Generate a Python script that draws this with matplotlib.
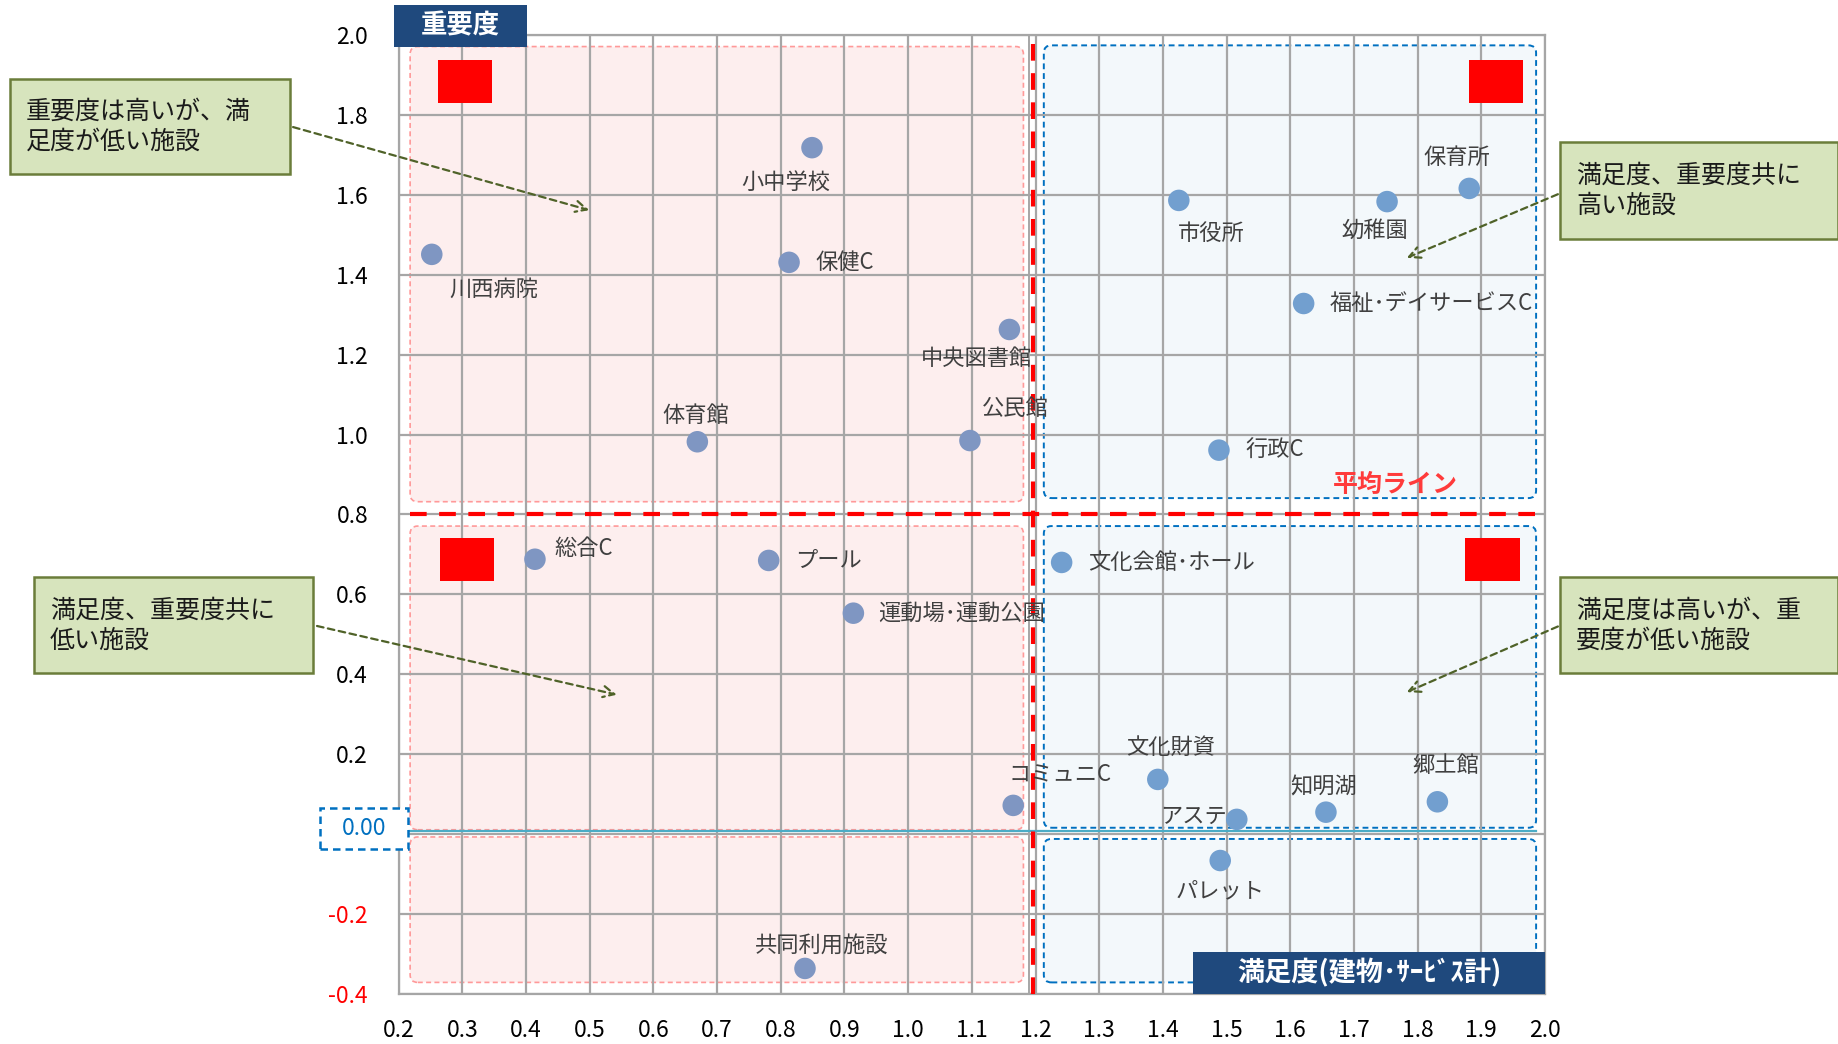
import matplotlib.pyplot as plt
from matplotlib.patches import FancyBboxPatch, Rectangle
import numpy as np

plt.rcParams['font.family'] = ['Noto Sans CJK JP', 'DejaVu Sans']

# facilities: satisfaction (x) / importance (y)
names = ['川西病院', '小中学校', '保健C', '中央図書館', '体育館', '公民館',
         '市役所', '幼稚園', '保育所', '福祉･デイサービスC', '行政C',
         '総合C', 'プール', '運動場･運動公園', '文化会館･ホール',
         'コミュニC', '文化財資', 'アステ', '知明湖', '郷土館', 'パレット', '共同利用施設']
sat = [0.252, 0.849, 0.813, 1.159, 0.669, 1.097,
       1.425, 1.752, 1.881, 1.621, 1.488,
       0.414, 0.781, 0.914, 1.241,
       1.165, 1.392, 1.516, 1.656, 1.831, 1.490, 0.838]
imp = [1.451, 1.718, 1.431, 1.263, 0.982, 0.985,
       1.586, 1.583, 1.616, 1.328, 0.961,
       0.688, 0.685, 0.553, 0.680,
       0.072, 0.137, 0.037, 0.055, 0.081, -0.066, -0.336]

avg_x = 1.196
avg_y = 0.8

xticks = np.round(np.arange(0.2, 2.01, 0.1), 1)
yticks = np.round(np.arange(-0.4, 2.01, 0.2), 1)

# label offsets (points) and alignment
offs = [(45, -25, 'center'), (-19, -25, 'center'), (19, 0, 'left'), (-24, -21, 'center'),
        (-1, 19, 'center'), (33, 23, 'center'),
        (23, -24, 'center'), (-9, -21, 'center'), (-9, 22, 'center'), (19, 0, 'left'),
        (19, 0, 'left'),
        (14, 8, 'left'), (19, 0, 'left'), (18, 0, 'left'), (19, 0, 'left'),
        (34, 23, 'center'), (9, 23, 'center'), (-7, 2, 'right'), (-2, 18, 'center'),
        (6, 26, 'center'), (0, -22, 'center'), (12, 16, 'center')]

fig = plt.figure(figsize=(18.38, 10.44), dpi=100)
ax = fig.add_axes([0.2169, 0.0479, 0.6237, 0.9186])
ax.set_xlim(0.2, 2.0)
ax.set_ylim(-0.4, 2.0)

for x in xticks:
    ax.axvline(x, color='#a6a6a6', lw=1.6, zorder=2)
for y in yticks:
    ax.axhline(y, color='#a6a6a6', lw=1.6, zorder=2)
ax.axvline(1.19, color='#a6a6a6', lw=1.4, zorder=2)
for s in ax.spines.values():
    s.set_color('#a6a6a6')
    s.set_linewidth(1.6)

# quadrant panels
asp = 542 / 340.8
def panel(x0, x1, y0, y1, fc, ec, lw):
    p = FancyBboxPatch((x0, y0), x1 - x0, y1 - y0,
                       boxstyle='round,pad=0,rounding_size=0.012',
                       mutation_aspect=asp, fc=fc, ec=ec, lw=lw, ls=(0, (3, 2)), zorder=1)
    ax.add_patch(p)

for y0, y1 in [(0.832, 1.971), (0.011, 0.771), (-0.371, -0.007)]:
    panel(0.218, 1.181, y0, y1, '#fdeeee', '#ff9999', 1.2)
for y0, y1 in [(0.841, 1.974), (0.016, 0.771), (-0.371, -0.012)]:
    panel(1.213, 1.986, y0, y1, '#f3f8fb', '#0070c0', 1.4)

# red squares
for x0, y0 in [(0.261, 1.830), (1.881, 1.830), (0.265, 0.633), (1.875, 0.633)]:
    ax.add_patch(Rectangle((x0, y0), 0.085, 0.107, fc='#ff0000', ec='none', zorder=3))

# average lines
ax.axhline(avg_y, xmin=0.01, xmax=0.995, color='#ff0000', lw=3, ls=(0, (4, 3)), zorder=4)
ax.axvline(avg_x, color='#ff0000', lw=3, ls=(0, (4, 3)), zorder=4)
ax.axhline(0.008, xmin=0.0, xmax=0.992, color='#4bacc6', lw=1.6, zorder=3)
ax.text(1.667, 0.873, '平均ライン', color='#ff3b3b', fontsize=18, fontweight='bold',
        ha='left', va='center', zorder=5)

cols = ['#7f96c2' if x < avg_x else '#729fcf' for x in sat]
ax.scatter(sat, imp, s=240, c=cols, zorder=6, edgecolors='none')
for n, x, y, (dx, dy, ha) in zip(names, sat, imp, offs):
    ax.annotate(n, (x, y), xytext=(dx, dy), textcoords='offset points',
                ha=ha, va='center', fontsize=16, color='#404040', zorder=7)

# ticks
ax.set_xticks(xticks)
ax.set_xticklabels([f'{v:.1f}' for v in xticks], fontsize=16.5)
ax.set_yticks(yticks)
ylabs = [f'{v:.1f}' if abs(v) > 1e-9 else '' for v in yticks]
ax.set_yticklabels(ylabs, fontsize=16.5)
for lab, v in zip(ax.get_yticklabels(), yticks):
    if v < 0:
        lab.set_color('#ff0000')
ax.tick_params(length=0, pad=22)
ax.tick_params(axis='x', pad=18)

# boxed zero label
ax.add_patch(Rectangle((-0.0686, 0.1516), 0.0768, 0.0428, transform=ax.transAxes,
                       fc='white', ec='#0070c0', lw=1.8, ls=(0, (3, 2)), clip_on=False, zorder=9))
ax.text(-0.0302, 0.173, '0.00', transform=ax.transAxes, ha='center', va='center',
        fontsize=16.5, color='#0070c0', zorder=10)

# axis title boxes
ax.add_patch(Rectangle((-0.004, 0.987), 0.116, 0.044, transform=ax.transAxes,
                       fc='#1f497d', ec='none', clip_on=False, zorder=8))
ax.text(0.054, 1.009, '重要度', transform=ax.transAxes, color='white', fontsize=19,
        fontweight='bold', ha='center', va='center', zorder=9)
ax.add_patch(Rectangle((0.693, 0.0), 0.307, 0.044, transform=ax.transAxes,
                       fc='#1f497d', ec='none', clip_on=False, zorder=8))
ax.text(0.8465, 0.022, '満足度(建物･ｻｰﾋﾞｽ計)', transform=ax.transAxes, color='white', fontsize=19.5,
        fontweight='bold', ha='center', va='center', zorder=9)

# callouts
callouts = [('重要度は高いが、満\n足度が低い施設', (0.0057, 0.833, 0.152, 0.091), (0.158, 0.879), (0.322, 0.798)),
            ('満足度、重要度共に\n高い施設', (0.849, 0.771, 0.151, 0.093), (0.849, 0.815), (0.764, 0.752)),
            ('満足度、重要度共に\n低い施設', (0.0185, 0.355, 0.152, 0.092), (0.171, 0.401), (0.337, 0.334)),
            ('満足度は高いが、重\n要度が低い施設', (0.849, 0.355, 0.151, 0.092), (0.849, 0.401), (0.764, 0.336))]
for txt, (bx, by, bw, bh), p0, p1 in callouts:
    fig.patches.append(Rectangle((bx, by), bw, bh, transform=fig.transFigure,
                                 fc='#d7e4bd', ec='#6b7d3a', lw=1.8, zorder=10))
    fig.text(bx + 0.0085, by + bh / 2, txt, fontsize=18, color='#1a1a1a',
             ha='left', va='center', linespacing=1.2, zorder=11)
    ax.annotate('', xy=p1, xycoords='figure fraction', xytext=p0, textcoords='figure fraction',
                arrowprops=dict(arrowstyle='->,head_length=0.8,head_width=0.4', color='#4f6228',
                                lw=1.6, ls=(0, (3, 2))), zorder=12)

fig.savefig('out.png', dpi=100)
